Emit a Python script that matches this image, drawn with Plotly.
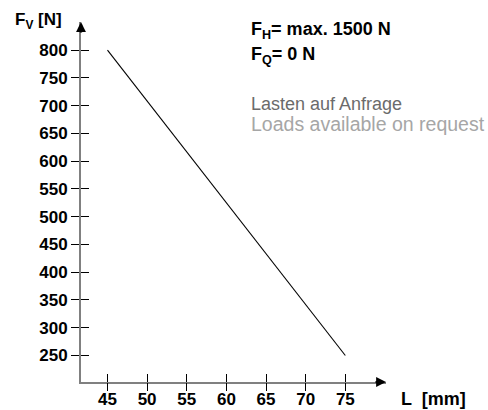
import plotly.graph_objects as go

# Permissible vertical load F_V over length L
length_mm = [45, 75]
force_v_n = [800, 250]

x_ticks = [45, 50, 55, 60, 65, 70, 75]
y_ticks = [250, 300, 350, 400, 450, 500, 550, 600, 650, 700, 750, 800]

W, H = 488, 410
M = dict(l=81, r=102, t=22, b=28, autoexpand=False)
PW = W - M["l"] - M["r"]
PH = H - M["t"] - M["b"]
X_RANGE = [41.66, 80.13]
Y_RANGE = [202.3, 850.5]

FONT = "Liberation Sans, Arial, sans-serif"
AXIS_GREY = "#808080"


def px(xp, yp):
    """Convert a pixel position in the page to paper coordinates."""
    return (xp - M["l"]) / PW, 1 - (yp - M["t"]) / PH


fig = go.Figure()
fig.add_trace(go.Scatter(
    x=length_mm, y=force_v_n, mode="lines",
    line=dict(color="black", width=1.1), hoverinfo="skip", showlegend=False,
))
# companion trace so the overlay axes (other half of the crossing ticks) render
fig.add_trace(go.Scatter(
    x=length_mm, y=force_v_n, mode="lines", xaxis="x2", yaxis="y2",
    line=dict(color="rgba(0,0,0,0)", width=0), hoverinfo="skip", showlegend=False,
))

tick_font = dict(family=FONT, size=17, color="black", weight="bold")

fig.update_layout(
    width=W, height=H, margin=M,
    paper_bgcolor="white", plot_bgcolor="white",
    xaxis=dict(
        range=X_RANGE, tickvals=x_ticks, ticks="inside", ticklen=8,
        tickcolor="black", tickwidth=1, tickfont=tick_font, ticklabelstandoff=1,
        showline=True, linecolor=AXIS_GREY, linewidth=2,
        showgrid=False, zeroline=False, anchor="y", automargin=False,
    ),
    yaxis=dict(
        range=Y_RANGE, tickvals=y_ticks, ticks="outside", ticklen=8,
        tickcolor="black", tickwidth=1, tickfont=tick_font,
        showline=True, linecolor=AXIS_GREY, linewidth=2,
        showgrid=False, zeroline=False, anchor="x", automargin=False,
    ),
    xaxis2=dict(
        range=X_RANGE, tickvals=x_ticks, ticks="outside", ticklen=8,
        tickcolor="black", tickwidth=1, showticklabels=False,
        showline=False, showgrid=False, zeroline=False,
        overlaying="x", anchor="y2", side="bottom", automargin=False,
    ),
    yaxis2=dict(
        range=Y_RANGE, tickvals=y_ticks, ticks="inside", ticklen=8,
        tickcolor="black", tickwidth=1, showticklabels=False,
        showline=False, showgrid=False, zeroline=False,
        overlaying="y", anchor="x2", side="left", automargin=False,
    ),
)

annotations = []

# arrowheads at the ends of both axes
annotations.append(dict(
    xref="paper", yref="paper", x=1.0, y=0.0, ax=-12, ay=0, text="",
    showarrow=True, arrowhead=2, arrowsize=0.9, arrowwidth=2.2, arrowcolor="black",
))
annotations.append(dict(
    xref="paper", yref="paper", x=0.0, y=1.0, ax=0, ay=12, text="",
    showarrow=True, arrowhead=2, arrowsize=0.9, arrowwidth=2.2, arrowcolor="black",
))

# axis titles
xp, yp = px(13, 21)
annotations.append(dict(
    xref="paper", yref="paper", x=xp, y=yp, xanchor="left", yanchor="middle",
    text="F<sub>V</sub> [N]", showarrow=False,
    font=dict(family=FONT, size=17, color="black", weight="bold"),
))
xp, yp = px(399, 399)
annotations.append(dict(
    xref="paper", yref="paper", x=xp, y=yp, xanchor="left", yanchor="middle",
    text="L  [mm]", showarrow=False,
    font=dict(family=FONT, size=18, color="black", weight="bold"),
))

# load notes
notes = [
    ("F<sub>H</sub>= max. 1500 N", 30, "black", "bold", 18),
    ("F<sub>Q</sub>= 0 N", 55, "black", "bold", 18),
    ("Lasten auf Anfrage", 104, "#6b6b6b", "normal", 18),
    ("Loads available on request", 124, "#a6a6a6", "normal", 19.5),
]
for text, ypix, color, weight, size in notes:
    xp, yp = px(249, ypix)
    annotations.append(dict(
        xref="paper", yref="paper", x=xp, y=yp, xanchor="left", yanchor="middle",
        text=text, showarrow=False,
        font=dict(family=FONT, size=size, color=color, weight=weight),
    ))

fig.update_layout(annotations=annotations)

fig.write_html("out.html")
